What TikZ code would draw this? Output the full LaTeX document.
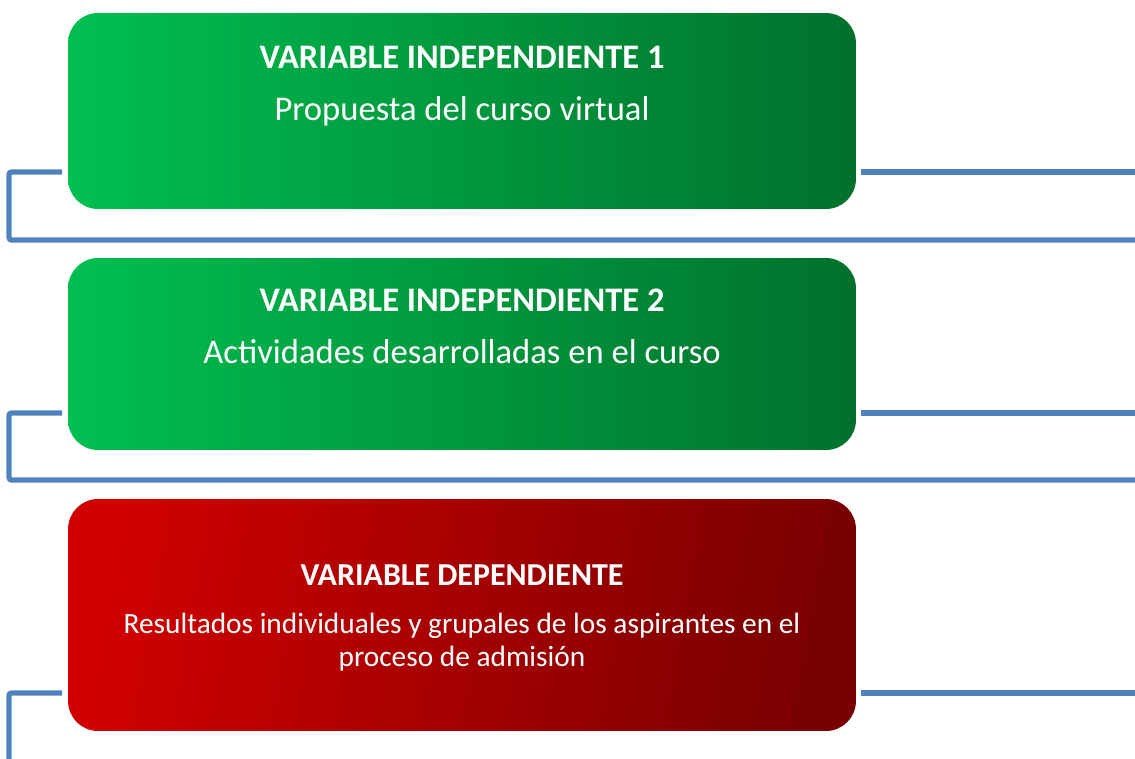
\documentclass[tikz,border=0pt]{standalone}
\usepackage{fontspec}
\setmainfont{Carlito}
\definecolor{gL}{HTML}{00BF50}
\definecolor{gR}{HTML}{00712C}
\definecolor{rL}{HTML}{D00000}
\definecolor{rR}{HTML}{7A0000}
\definecolor{conn}{HTML}{4F81BD}
\tikzset{
  box/.style={rectangle, rounded corners=0.6cm, minimum width=15.76cm, inner sep=0pt, draw=none},
  greenbox/.style={box, left color=gL, right color=gR},
  redbox/.style={box, shading=axis, left color=rL, right color=rR, shading angle=80},
  ttl/.style={anchor=base, text=white, font=\fontsize{19.6}{23}\selectfont\bfseries},
  bdy/.style={anchor=base, text=white, font=\fontsize{19.7}{23}\selectfont},
  ttlsm/.style={anchor=base, text=white, font=\fontsize{18.2}{22}\selectfont\bfseries},
  bdysm/.style={anchor=base, text=white, font=\fontsize{16.7}{18.7}\selectfont},
  link/.style={draw=conn, line width=3pt, rounded corners=1.5pt},
}
\begin{document}
\begin{tikzpicture}[x=0.02cm, y=-0.02cm]
\useasboundingbox (0,0) rectangle (1135,758);
% boxes
\node[greenbox, minimum height=3.92cm] (b1) at (462,111) {};
\node[greenbox, minimum height=3.84cm] (b2) at (462,354) {};
\node[redbox, minimum height=4.64cm] (b3) at (462,615) {};
% texts
\node[ttl] (t1) at (462,68) {VARIABLE INDEPENDIENTE 1};
\node[bdy] (d1) at (462,120) {Propuesta del curso virtual};
\node[ttl] (t2) at (462,311) {VARIABLE INDEPENDIENTE 2};
\node[bdy] (d2) at (462,363) {Actividades desarrolladas en el curso};
\node[ttlsm] (t3) at (462,585) {VARIABLE DEPENDIENTE};
\node[bdysm] (d3a) at (462,633) {Resultados individuales y grupales de los aspirantes en el};
\node[bdysm] (d3b) at (462,666) {proceso de admisión};
% connector coordinates
\coordinate (l1a) at (62,172);
\coordinate (l1b) at (9,172);
\coordinate (l1c) at (9,240);
\coordinate (l1d) at (1140,240);
\coordinate (r1a) at (861,172);
\coordinate (r1b) at (1140,172);
\coordinate (l2a) at (62,413);
\coordinate (l2b) at (9,413);
\coordinate (l2c) at (9,480);
\coordinate (l2d) at (1140,480);
\coordinate (r2a) at (861,413);
\coordinate (r2b) at (1140,413);
\coordinate (l3a) at (62,693);
\coordinate (l3b) at (9,693);
\coordinate (l3c) at (9,765);
\coordinate (r3a) at (861,693);
\coordinate (r3b) at (1140,693);
% connectors
\draw[link] (l1a) -- (l1b) -- (l1c) -- (l1d);
\draw[link] (r1a) -- (r1b);
\draw[link] (l2a) -- (l2b) -- (l2c) -- (l2d);
\draw[link] (r2a) -- (r2b);
\draw[link] (l3a) -- (l3b) -- (l3c);
\draw[link] (r3a) -- (r3b);
\end{tikzpicture}
\end{document}
